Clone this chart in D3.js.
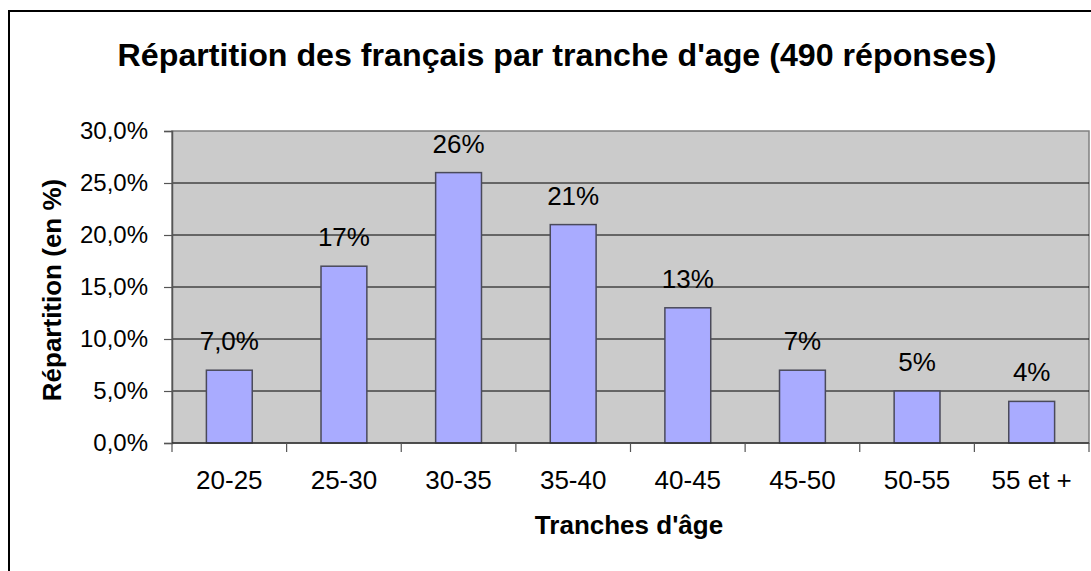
<!DOCTYPE html>
<html>
<head>
<meta charset="utf-8">
<script src="https://cdn.jsdelivr.net/npm/d3@7"></script>
<style>
	body { margin: 0; background: #fff; }
	svg { display: block; font-family: "Liberation Sans", Arial, sans-serif; }
</style>
</head>
<body>
<svg id="chart" width="1091" height="571"></svg>
<script>
// chart data
const categories = ["20-25", "25-30", "30-35", "35-40", "40-45", "45-50", "50-55", "55 et +"];
const values = [7, 17, 26, 21, 13, 7, 5, 4];
const valueLabels = ["7,0%", "17%", "26%", "21%", "13%", "7%", "5%", "4%"];
const yTicks = [0, 5, 10, 15, 20, 25, 30];
const titleText = "Répartition des français par tranche d'age (490 réponses)";
const xTitle = "Tranches d'âge";
const yTitle = "Répartition (en %)";

const svg = d3.select("#chart");

// plot area box
const plot = { left: 172, top: 131, right: 1089, bottom: 443 };

// outer chart border (runs off the right and bottom of the picture)
svg.append("rect")
	.attr("x", 9).attr("y", 11)
	.attr("width", 1200).attr("height", 700)
	.attr("fill", "#fff")
	.attr("stroke", "#000")
	.attr("stroke-width", 2);

const x = d3.scaleBand()
	.domain(categories)
	.range([plot.left, plot.right])
	.paddingInner(0.6)
	.paddingOuter(0.3);

const y = d3.scaleLinear()
	.domain([0, 30])
	.range([plot.bottom, plot.top]);

// grey background of the plot
svg.append("rect")
	.attr("x", plot.left).attr("y", plot.top)
	.attr("width", plot.right - plot.left)
	.attr("height", plot.bottom - plot.top)
	.attr("fill", "#cbcbcb")
	.attr("stroke", "#808080")
	.attr("stroke-width", 1.5);

// horizontal gridlines
svg.append("g")
	.selectAll("line")
	.data(yTicks.filter(t => t > 0 && t < 30))
	.join("line")
	.attr("x1", plot.left).attr("x2", plot.right)
	.attr("y1", d => y(d)).attr("y2", d => y(d))
	.attr("stroke", "#000")
	.attr("stroke-width", 1);

// bars
svg.append("g")
	.selectAll("rect")
	.data(values)
	.join("rect")
	.attr("x", (d, i) => x(categories[i]))
	.attr("y", d => y(d))
	.attr("width", x.bandwidth())
	.attr("height", d => y(0) - y(d))
	.attr("fill", "#a9abff")
	.attr("stroke", "#4a4a5a")
	.attr("stroke-width", 1.5);

// value labels above the bars
svg.append("g")
	.selectAll("text")
	.data(values)
	.join("text")
	.attr("x", (d, i) => x(categories[i]) + x.bandwidth() / 2)
	.attr("y", d => y(d) - 20)
	.attr("text-anchor", "middle")
	.attr("font-size", 26)
	.attr("fill", "#000")
	.text((d, i) => valueLabels[i]);

// y axis
const yAxis = d3.axisLeft(y)
	.tickValues(yTicks)
	.tickSize(8)
	.tickPadding(16)
	.tickFormat(d => d3.format(".1f")(d).replace(".", ",") + "%");

svg.append("g")
	.attr("transform", `translate(${plot.left},0)`)
	.call(yAxis)
	.call(g => g.select(".domain").attr("stroke", "#555").attr("stroke-width", 1.5))
	.call(g => g.selectAll(".tick line").attr("stroke", "#555").attr("stroke-width", 1.2))
	.call(g => g.selectAll(".tick text")
		.attr("font-size", 24)
		.attr("font-family", "Liberation Sans, Arial, sans-serif")
		.attr("fill", "#000"));

// x axis: tick marks sit between the categories
const xAxisG = svg.append("g");
xAxisG.append("line")
	.attr("x1", plot.left).attr("x2", plot.right)
	.attr("y1", plot.bottom).attr("y2", plot.bottom)
	.attr("stroke", "#333")
	.attr("stroke-width", 1.5);

const step = x.step();
xAxisG.selectAll("line.sep")
	.data(d3.range(categories.length + 1))
	.join("line")
	.attr("class", "sep")
	.attr("x1", i => plot.left + i * step)
	.attr("x2", i => plot.left + i * step)
	.attr("y1", plot.bottom)
	.attr("y2", plot.bottom + 9)
	.attr("stroke", "#555")
	.attr("stroke-width", 1.2);

xAxisG.selectAll("text")
	.data(categories)
	.join("text")
	.attr("x", d => x(d) + x.bandwidth() / 2)
	.attr("y", 489)
	.attr("text-anchor", "middle")
	.attr("font-size", 26)
	.attr("fill", "#000")
	.text(d => d);

// titles
svg.append("text")
	.attr("x", 557)
	.attr("y", 66)
	.attr("text-anchor", "middle")
	.attr("font-size", 32.2)
	.attr("font-weight", "bold")
	.text(titleText);

svg.append("text")
	.attr("x", 629)
	.attr("y", 534)
	.attr("text-anchor", "middle")
	.attr("font-size", 26)
	.attr("font-weight", "bold")
	.text(xTitle);

svg.append("text")
	.attr("transform", "translate(61,290) rotate(-90)")
	.attr("text-anchor", "middle")
	.attr("font-size", 26)
	.attr("font-weight", "bold")
	.text(yTitle);
</script>
</body>
</html>
